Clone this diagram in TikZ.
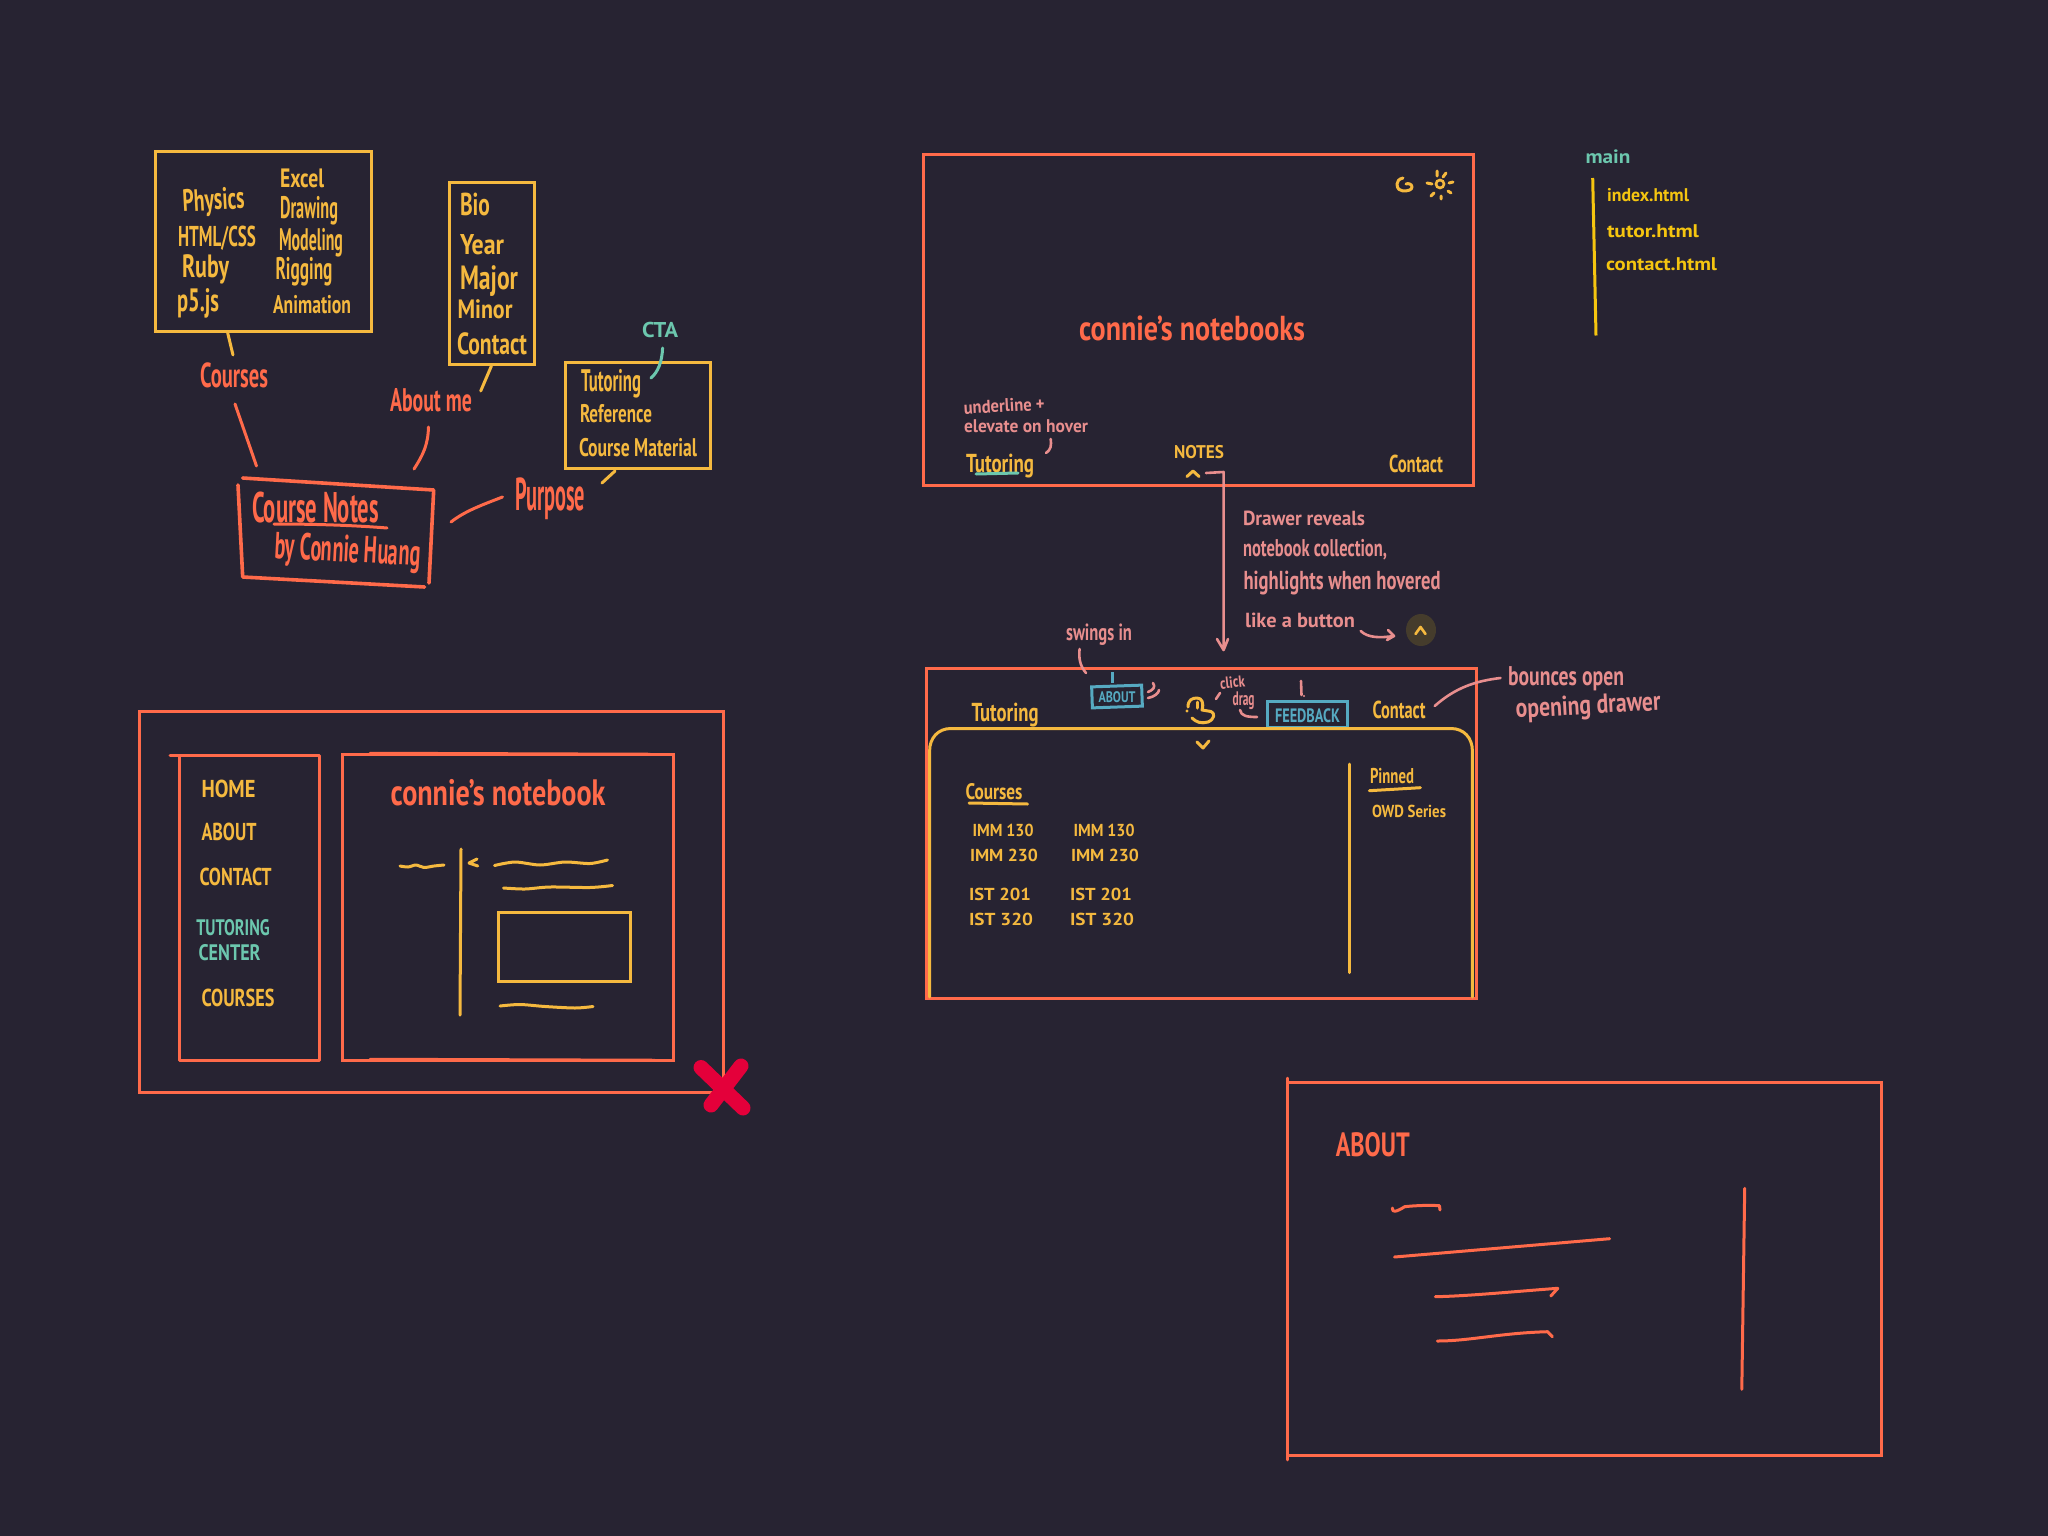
\documentclass[tikz,border=0pt]{standalone}
\usetikzlibrary{shapes.geometric}
\usepackage{graphicx}
\usepackage{fontspec}
\setmainfont{PT Sans}
\definecolor{bgdark}{HTML}{272332}
\definecolor{redline}{HTML}{FF6A4A}
\definecolor{yel}{HTML}{F5B93F}
\definecolor{deepyel}{HTML}{F5C510}
\definecolor{tealc}{HTML}{6CC7AE}
\definecolor{pinkc}{HTML}{E88E8E}
\definecolor{bluec}{HTML}{56AAC2}
\definecolor{crimson}{HTML}{E4003A}
\definecolor{olive}{HTML}{453C2C}
\newcommand\hw[3]{\fontsize{#1}{#1}\bfseries\selectfont\resizebox{#2pt}{\totalheight}{#3}}
\tikzset{
  tx/.style={inner sep=0pt,anchor=base},
  rtx/.style={tx,text=redline},
  ytx/.style={tx,text=yel},
  dtx/.style={tx,text=deepyel},
  ttx/.style={tx,text=tealc},
  ptx/.style={tx,text=pinkc},
  btx/.style={tx,text=bluec},
  hbox/.style={draw,rectangle,inner sep=0pt,line width=3pt,sharp corners},
  rln/.style={draw=redline,line width=3pt,line cap=round,line join=round},
  yln/.style={draw=yel,line width=3pt,line cap=round,line join=round},
  pln/.style={draw=pinkc,line width=2.6pt,line cap=round,line join=round},
}
\begin{document}
\begin{tikzpicture}[x=1pt,y=-1pt]
\fill[bgdark] (0,0) rectangle (2048,1536);
\useasboundingbox (0,0) rectangle (2048,1536);

% ---------- mind map ----------
\node[hbox,draw=yel,minimum width=216pt,minimum height=179pt] (coursebox) at (263,241.5) {};
\node[ytx,rotate=3] (physics) at (214,210) {\hw{24}{62}{Physics}};
\node[ytx] (htmlcss) at (217,246) {\hw{24}{78}{HTML/CSS}};
\node[ytx] (ruby) at (205.5,277) {\hw{25}{47}{Ruby}};
\node[ytx] (pfive) at (198,311) {\hw{25}{42}{p5.js}};
\node[ytx] (excel) at (302,187) {\hw{26}{44}{Excel}};
\node[ytx] (drawing) at (309,218) {\hw{24}{58}{Drawing}};
\node[ytx] (modeling) at (311,250) {\hw{24}{64}{Modeling}};
\node[ytx] (rigging) at (304,279) {\hw{24}{57}{Rigging}};
\node[ytx] (animation) at (312,313) {\hw{25}{78}{Animation}};

\node[hbox,draw=yel,minimum width=85pt,minimum height=182pt] (biobox) at (492,273) {};
\node[ytx] (bio) at (475,215) {\hw{31}{30}{Bio}};
\node[ytx] (year) at (482,254) {\hw{28}{44}{Year}};
\node[ytx] (major) at (489,289) {\hw{26}{58}{Major}};
\node[ytx] (minor) at (485,318) {\hw{26}{55}{Minor}};
\node[ytx] (contactA) at (492,354) {\hw{30}{70}{Contact}};

\node[hbox,draw=yel,minimum width=145pt,minimum height=106pt] (ctabox) at (637.5,415) {};
\node[ytx] (tutoringA) at (611,391) {\hw{24}{60}{Tutoring}};
\node[ytx] (reference) at (616,422) {\hw{25}{72}{Reference}};
\node[ytx] (material) at (638,456) {\hw{25}{118}{Course Material}};
\node[ttx] (cta) at (660,337) {\hw{21}{36}{CTA}};
\coordinate (ctaend) at (651,378);
\draw[draw=tealc,line width=3pt,line cap=round] (662.6,348) .. controls (662,362) and (658,372) .. (ctaend);

\node[rtx] (courses) at (234,387) {\hw{34}{68}{Courses}};
\node[rtx] (aboutme) at (431,411) {\hw{32}{82}{About me}};
\node[rtx] (purpose) at (550,510) {\hw{36}{70}{Purpose}};

\coordinate (cnA) at (242.7,478); \coordinate (cnB) at (433.7,490);
\coordinate (cnC) at (424.6,587); \coordinate (cnD) at (242.7,577);
\draw[rln,line width=3.6pt] (cnA) -- (cnB) (238,485) -- (cnD) -- (cnC) (cnB) -- (429,583);
\node[rtx] (coursenotes) at (315.5,522) {\hw{42}{127}{Course Notes}};
\draw[rln] (274,524) .. controls (310,524) and (350,525) .. (387,528);
\node[rtx,rotate=-3] (byconnie) at (347,562) {\hw{29}{146}{by Connie Huang}};

\coordinate (l1a) at (227.7,333); \coordinate (l1b) at (233,355);
\coordinate (l2a) at (235,404); \coordinate (l2b) at (256.5,466);
\coordinate (l3a) at (491.4,366); \coordinate (l3b) at (480.7,391);
\coordinate (l4a) at (428.5,427); \coordinate (l4b) at (414,469);
\coordinate (l5a) at (615,471); \coordinate (l5b) at (602,483);
\coordinate (l6a) at (502.5,497); \coordinate (l6b) at (451,522);
\draw[yln] (l1a) -- (l1b);
\draw[rln] (l2a) -- (l2b);
\draw[yln] (l3a) -- (l3b);
\draw[rln] (l4a) .. controls (428,445) and (423,455) .. (l4b);
\draw[yln] (l5a) -- (l5b);
\draw[rln] (l6a) .. controls (482,505) and (465,511) .. (l6b);

% ---------- hero page ----------
\node[hbox,draw=redline,minimum width=550pt,minimum height=330pt] (hero) at (1198,320) {};
\draw[yln] (1403,178) .. controls (1399,179) and (1397,181) .. (1397,184) .. controls (1397,189) and (1400,191) .. (1403,191) .. controls (1408,191) and (1412,190) .. (1412,187) .. controls (1412,184) and (1408,183) .. (1406,184);
\node[circle,draw=yel,line width=2.6pt,minimum size=8pt,inner sep=0pt] (sun) at (1440,184) {};
\draw[yln] (1437,171) -- (1437,176) (1446,173) -- (1443,177) (1453,182) -- (1449,183) (1451,193) -- (1448,191) (1441,199) -- (1441,196) (1431,196) -- (1434,193) (1427,183) -- (1432,184);
\node[rtx] (connieA) at (1192,340) {\hw{34}{226}{connie's notebooks}};
\node[ptx,rotate=3] (underlinep) at (1004.5,412) {\hw{18}{81}{underline +}};
\node[ptx] (elevate) at (1026,432.5) {\hw{18}{124}{elevate on hover}};
\draw[pln] (1050.7,439) .. controls (1051.5,445) and (1051,450) .. (1046,453);
\node[ytx] (tutoringB) at (1000,472) {\hw{20}{68}{Tutoring}};
\draw[draw=tealc,line width=3pt,line cap=round] (976,474) -- (1018,473);
\node[ytx] (notes) at (1199,458.6) {\hw{18}{50}{NOTES}};
\draw[yln] (1187,476.5) -- (1193,471) -- (1199,476.5);
\node[ytx] (contactB) at (1416,472) {\hw{24}{54}{Contact}};

% files
\node[ttx] (mainl) at (1608,163) {\hw{19}{45}{main}};
\draw[draw=deepyel,line width=3pt] (1592.7,178) -- (1596,335.5);
\node[dtx] (indexh) at (1648,201) {\hw{18}{82}{index.html}};
\node[dtx] (tutorh) at (1653,237.5) {\hw{18}{92}{tutor.html}};
\node[dtx] (contacth) at (1661.5,270) {\hw{18}{111}{contact.html}};

% connector
\node[ptx] (drawerA) at (1304,525.5) {\hw{20}{122}{Drawer reveals}};
\node[ptx] (drawerB) at (1315,556.6) {\hw{20}{144}{notebook collection,}};
\node[ptx] (drawerC) at (1342,589) {\hw{20}{197}{highlights when hovered}};
\node[ptx] (drawerD) at (1300,627) {\hw{20}{110}{like a button}};
\coordinate (cA) at (1206,473); \coordinate (cB) at (1223.6,472); \coordinate (cC) at (1223.6,650);
\draw[pln] (cA) -- (cB) -- (cC) (1217,639) -- (cC) -- (1228,639);
\node[ellipse,fill=olive,minimum width=30pt,minimum height=32pt,inner sep=0pt] (btn) at (1421,630) {};
\draw[yln,line width=2.6pt] (1415.5,634) -- (1420.5,627) -- (1425.5,634);
\coordinate (bA) at (1360.7,631); \coordinate (bB) at (1394,636);
\draw[pln] (bA) .. controls (1368,638) and (1380,638) .. (bB) (1388,630) -- (bB) -- (1387,640);

% ---------- drawer page ----------
\node[hbox,draw=redline,minimum width=550pt,minimum height=330pt] (drawerpage) at (1201.5,833) {};
\node[ptx] (swings) at (1099,640) {\hw{18}{66}{swings in}};
\draw[pln] (1079.6,649) .. controls (1078.5,658) and (1080,666) .. (1086,673);
\draw[draw=bluec,line width=2.6pt] (1112.7,672) -- (1112.7,683);
\node[hbox,draw=bluec,minimum width=50pt,minimum height=21pt,rotate=2] (aboutbtn) at (1117,696.5) {};
\node[btx] (aboutt) at (1117,702) {\hw{15}{37}{ABOUT}};
\draw[pln] (1153,683) .. controls (1156,687) and (1153,690) .. (1148,692);
\draw[pln] (1159,690) .. controls (1159,693) and (1154,697) .. (1148,698);
\draw[yln] (1188,707) .. controls (1188,700) and (1192,698) .. (1197,698) .. controls (1202,698) and (1204,703) .. (1202,710) -- (1211,711.5) .. controls (1215,713) and (1215,719) .. (1208,722) .. controls (1201,724) and (1196,722) .. (1192,718);
\draw[yln] (1197,702) -- (1197,708);
\fill[yel] (1187,711) circle (1.6);
\node[ptx,rotate=6] (clickt) at (1233,688) {\hw{16}{25}{click}};
\node[ptx] (dragt) at (1243.6,705) {\hw{15}{22}{drag}};
\draw[pln] (1220,693) -- (1216,699);
\draw[pln] (1240,710) .. controls (1241,716) and (1247,717) .. (1257,717);
\draw[pln] (1301,681) -- (1301.5,695);
\fill[pinkc] (1304,696) circle (1.2);
\node[hbox,draw=bluec,minimum width=80pt,minimum height=26pt] (feedbackbtn) at (1307,714) {};
\node[btx] (feedbackt) at (1307.5,722) {\hw{19}{65}{FEEDBACK}};
\node[ytx] (tutoringC) at (1005,721) {\hw{20}{67}{Tutoring}};
\node[ytx] (contactC) at (1399,718) {\hw{24}{53}{Contact}};
\node[ptx] (bounces) at (1566,685) {\hw{21}{116}{bounces  open}};
\node[ptx,rotate=3] (opening) at (1588.6,714) {\hw{21}{145}{opening  drawer}};
\coordinate (bnA) at (1500.5,678); \coordinate (bnB) at (1434.7,706);
\draw[pln] (bnA) .. controls (1475,681) and (1455,688) .. (bnB);

\coordinate (dA) at (929.6,997); \coordinate (dB) at (1472.4,997);
\draw[yln] (dA) -- (929.6,751) .. controls (929.6,738) and (938,728.5) .. (951,728.5) -- (1451,728.5) .. controls (1464,728.5) and (1472.4,738) .. (1472.4,751) -- (dB);
\draw[yln] (1197,742) -- (1203,748) -- (1209,741);
\node[ytx] (coursesB) at (994,799) {\hw{22}{57}{Courses}};
\draw[yln] (969,803) -- (1027.5,804);
\node[ytx] (immA) at (1003,836) {\hw{17}{61}{IMM 130}};
\node[ytx] (immB) at (1104,836) {\hw{17}{61}{IMM 130}};
\node[ytx] (immC) at (1004,861.7) {\hw{17}{68}{IMM 230}};
\node[ytx] (immD) at (1105,861.7) {\hw{17}{68}{IMM 230}};
\node[ytx] (istA) at (1000,900) {\hw{17}{62}{IST 201}};
\node[ytx] (istB) at (1101,900) {\hw{17}{62}{IST 201}};
\node[ytx] (istC) at (1001,925) {\hw{17}{64}{IST 320}};
\node[ytx] (istD) at (1102,925) {\hw{17}{64}{IST 320}};
\draw[yln] (1349,764) -- (1349,972.7);
\node[ytx] (pinned) at (1392,783.5) {\hw{21}{44}{Pinned}};
\draw[yln] (1369.4,790.7) -- (1420.4,787.7);
\node[ytx] (owd) at (1409,817) {\hw{17}{74}{OWD Series}};

% ---------- tutoring page ----------
\node[hbox,draw=redline,minimum width=584pt,minimum height=381pt] (tutorpage) at (431,902.2) {};
\draw[rln] (170,755) -- (319.8,755) -- (319.8,1060.7) -- (179.8,1060.7) -- (179.8,756);
\node[hbox,draw=redline,minimum width=331pt,minimum height=306pt] (contentbox) at (508.3,907) {};
\draw[rln,line width=2.5pt] (370,753) -- (650,754) (370,1059) -- (655,1060);
\node[ytx] (home) at (228.5,797.5) {\hw{24}{54}{HOME}};
\node[ytx] (aboutA) at (229,840) {\hw{24}{55}{ABOUT}};
\node[ytx] (contactD) at (235.5,885) {\hw{24}{72}{CONTACT}};
\node[ttx] (tutorc) at (233,935) {\hw{22}{73.5}{TUTORING}};
\node[ttx] (center) at (229.6,960) {\hw{22}{62}{CENTER}};
\node[ytx] (coursesC) at (238,1006) {\hw{24}{73}{COURSES}};
\node[rtx] (connieB) at (498,805) {\hw{36}{215}{connie's notebook}};
\draw[yln] plot[smooth] coordinates {(400,866) (408,867) (416,865) (424,867.5) (434,866) (444,865)};
\draw[yln] (461,849) -- (460,1015);
\draw[yln] (477,859) -- (469,863) -- (477.8,866);
\draw[yln] plot[smooth] coordinates {(494.5,865.5) (515,862) (540,865) (565,862) (590,863.5) (607.5,860)};
\draw[yln] plot[smooth] coordinates {(503.5,888) (525,889) (550,887) (590,887.5) (612.5,885.5)};
\node[hbox,draw=yel,minimum width=132pt,minimum height=69pt] (imgbox) at (564,947) {};
\draw[yln] plot[smooth] coordinates {(500,1006) (520,1004.5) (545,1006.5) (575,1008) (593,1006.5)};
\draw[draw=crimson,line width=15pt,line cap=round] (701,1067.5) -- (743,1108) (741,1066) -- (711,1105);

% ---------- about page ----------
\node[hbox,draw=redline,minimum width=594pt,minimum height=373pt] (aboutpage) at (1584.5,1269.2) {};
\draw[rln,line width=2.5pt] (1287.6,1078) -- (1287.6,1460);
\node[rtx] (aboutB) at (1372.8,1156) {\hw{33}{74}{ABOUT}};
\draw[rln] (1392.4,1208) .. controls (1392,1213) and (1396,1212) .. (1404.7,1206.7) .. controls (1415,1205.5) and (1430,1205) .. (1439.4,1205.7) -- (1440,1210);
\draw[rln] (1394.5,1257) -- (1609.6,1238.7);
\draw[rln] (1435.3,1296.7) .. controls (1470,1296) and (1520,1291) .. (1557.8,1288.3) -- (1550.8,1296);
\draw[rln] (1437.3,1341) .. controls (1470,1341) and (1500,1333) .. (1547.6,1331.7) -- (1552.4,1336.7);
\draw[rln] (1744.7,1188.3) -- (1741.8,1389.3);
\end{tikzpicture}
\end{document}
